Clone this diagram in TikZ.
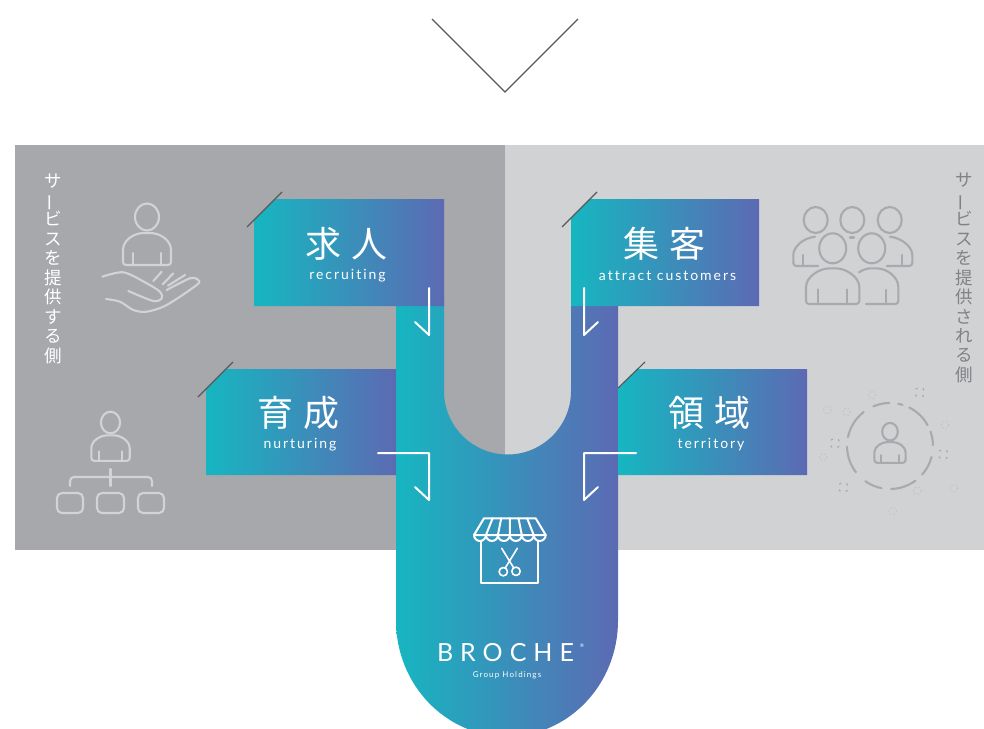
\documentclass[tikz,border=0pt]{standalone}
\usepackage{fontspec}
\setmainfont{Lato}
\newfontfamily\jpfont{Noto Sans CJK JP}
\newfontfamily\jphead[LetterSpace=26]{Noto Sans CJK JP}
\newfontfamily\latinsub[LetterSpace=14,Ligatures=NoCommon]{Lato}
\newfontfamily\latinlogo[LetterSpace=28]{Lato}
\definecolor{teal0}{HTML}{16B6C1}
\definecolor{violet0}{HTML}{5C6AB3}
\definecolor{paneldark}{HTML}{A7A8AB}
\definecolor{panellight}{HTML}{D1D2D4}
\definecolor{iconlight}{HTML}{D2D3D5}
\definecolor{icondark}{HTML}{A9AAAD}
\definecolor{sidegray}{HTML}{808285}
\definecolor{cutline}{HTML}{58595B}
\newcommand{\vbar}{\rotatebox[origin=c]{90}{ー}}
\tikzset{
	cardfill/.style={left color=teal0, right color=violet0, draw=none},
	cutmark/.style={cutline, line width=1.1pt},
	flowline/.style={white, line width=2pt, line cap=round, line join=round},
	headtext/.style={white, font=\jphead\fontsize{36}{38}\selectfont, inner sep=0pt},
	subtext/.style={white, font=\latinsub\fontsize{14}{16}\selectfont, inner sep=0pt},
	sidetext/.style={font=\jpfont\fontsize{17.5}{19.45}\selectfont, align=center, inner sep=0pt},
	iconline/.style={line width=2.1pt, line cap=round, line join=round},
	storeline/.style={white, line width=2pt, line join=round, line cap=round},
	personicon/.pic={
		\draw (0,0) ellipse[x radius=12, y radius=13.5];
		\draw[rounded corners=3] (-24,36) .. controls (-24,23) and (-13,16) .. (0,16) .. controls (13,16) and (24,23) .. (24,36) -- (24,48) -- (-24,48) -- cycle;
		\draw (-14,36) -- (-14,48) (14,36) -- (14,48);
	},
}
\begin{document}
\begin{tikzpicture}[x=1pt, y=-1pt]
	\useasboundingbox (0,0) rectangle (984,728);
	
	% Chevron
	\draw[cutmark] (432,19) -- (505,92) -- (578,19);
	
	% Panels
	\fill[paneldark] (15,145) rectangle (505,550);
	\fill[panellight] (505,145) rectangle (984,550);
	
	% Central shape
	\shade[cardfill] (396,300) -- (444,300) -- (444,391) arc[start angle=180, end angle=0, radius=63.5] -- (571,300) -- (618,300) -- (618,620.5) arc[start angle=0, end angle=180, x radius=111, y radius=116] -- cycle;
	
	% Cards
	\shade[cardfill] (254,220) -- (275,199) -- (444,199) -- (444,306) -- (254,306) -- cycle;
	\shade[cardfill] (206,389) -- (226,369) -- (396,369) -- (396,475) -- (206,475) -- cycle;
	\shade[cardfill] (571,218) -- (590,199) -- (759,199) -- (759,306) -- (571,306) -- cycle;
	\shade[cardfill] (618,388) -- (637,369) -- (807,369) -- (807,475) -- (618,475) -- cycle;
	
	\draw[cutmark] (247,227) -- (282,192);
	\draw[cutmark] (198,397) -- (233,362);
	\draw[cutmark] (562,227) -- (597,192);
	\draw[cutmark] (618,388) -- (645,362);
	
	% Card labels
	\node[headtext] (recruit) at (346.5,244) {求人};
	\node[subtext] (recruitsub) at (347.5,276) {recruiting};
	\node[headtext] (nurture) at (298.5,413) {育成};
	\node[subtext] (nurturesub) at (300,445) {nurturing};
	\node[headtext] (attract) at (664.5,244) {集客};
	\node[subtext] (attractsub) at (667.5,276) {attract customers};
	\node[headtext] (territory) at (709.5,413) {領域};
	\node[subtext] (territorysub) at (711,445) {territory};
	
	% Arrows
	\draw[flowline] (429,288) -- (429,335) -- (415,322);
	\draw[flowline] (378,453) -- (429,453) -- (429,500) -- (415,487);
	\draw[flowline] (584,288) -- (584,335) -- (598,322);
	\draw[flowline] (636,453) -- (584,453) -- (584,500) -- (598,487);
	
	% Side texts
	\node[sidetext, white] (providers) at (53,268.5) {サ\\\vbar\\ビ\\ス\\を\\提\\供\\す\\る\\側};
	\node[sidetext, sidegray] (receivers) at (964,278) {サ\\\vbar\\ビ\\ス\\を\\提\\供\\さ\\れ\\る\\側};
	
	% Hand icon
	\begin{scope}[iconline, iconlight]
		\pic at (147,217) {personicon};
		\draw plot[smooth] coordinates {(102.3,276.7) (123.3,272.3) (145,282.3) (160,291.7) (161.7,298.3) (153.3,301) (128.3,291)};
		\draw plot[smooth] coordinates {(106,299) (120,301.7) (133.3,310) (146.7,311.7) (166.7,305) (196.7,285) (198.3,280) (190,278.3) (166.7,290)};
		\draw (153.3,281) -- (161.7,271.7);
		\draw (162.7,284.3) -- (173.3,273.3);
		\draw (168,285.7) -- (185,275);
	\end{scope}
	
	% Tree icon
	\begin{scope}[iconline, iconlight]
		\pic[scale=0.8] at (110.5,422.5) {personicon};
		\draw (110.5,469) -- (110.5,486);
		\draw[rounded corners=4] (70,486) -- (70,477) -- (152,477) -- (152,486);
		\draw[rounded corners=5] (57,493) rectangle (83,513);
		\draw[rounded corners=5] (97,493) rectangle (124,513);
		\draw[rounded corners=5] (138,493) rectangle (164,513);
	\end{scope}
	
	% Group icon
	\begin{scope}[iconline, icondark]
		\foreach \xa in {815.7,852.3,889.7}
			\draw (\xa,220) ellipse[x radius=12, y radius=13];
		\foreach \xa in {832.7,871.7}
			\draw (\xa,248.3) ellipse[x radius=13.5, y radius=15];
		\draw (850,237.5) -- (854,237.5);
		\draw[rounded corners=3] (815,236.7) .. controls (803,238) and (793.3,247) .. (793.3,258) -- (793.3,266) -- (818,266);
		\draw (803.3,255) -- (803.3,266);
		\draw[rounded corners=3] (890,236.7) .. controls (902,238) and (912.3,247) .. (912.3,258) -- (912.3,266) -- (886.7,266);
		\draw (901.7,255) -- (901.7,266);
		\draw[rounded corners=3] (806,290) .. controls (806,277) and (819,268.3) .. (832.7,268.3) .. controls (846,268.3) and (859.3,277) .. (859.3,290) -- (859.3,304) -- (806,304) -- cycle;
		\draw (818.3,289.3) -- (818.3,304) (846.7,289.3) -- (846.7,304);
		\draw[rounded corners=3] (859,272.3) .. controls (863,269.5) and (868,268.3) .. (873.3,268.3) .. controls (887,268.3) and (898.3,277) .. (898.3,290) -- (898.3,304) -- (866,304);
		\draw (886,290) -- (886,304);
	\end{scope}
	
	% Territory icon
	\begin{scope}[iconline, icondark]
		\pic[scale=0.65] at (890,431.7) {personicon};
		\foreach \aa/\ab in {112.6/91,79/73,63.4/29,19.7/1.3,-14.7/-41.8,-53.7/-88.6,-101.4/-125,-142.4/-179,168/127.7}
			\draw (890,446) ++(-1*\aa:43) arc[start angle=-1*\aa, end angle=-1*\ab, radius=43];
	\end{scope}
	\foreach \xa/\ya in {872.3/395,827.3/410,846.7/411.7,945/425,823.3/457.3,917.3/490.7,954/488.3,892.7/511.3}
		\draw[icondark!75, line width=0.7pt, dash pattern=on 1.6pt off 2.1pt] (\xa,\ya) circle[radius=3.8];
	\foreach \xa/\ya in {919.7/392.3,835/443.3,943.3/454.3,843.3/487.3}
		\draw[icondark, line width=1.2pt, dash pattern=on 2.2pt off 5.6pt, dash phase=-2.9pt] (\xa,\ya) circle[radius=5];
	
	% Store icon
	\begin{scope}[storeline]
		\draw (484,518.3) -- (535.7,518.3) -- (545.7,535) -- (474,535) -- cycle;
		\foreach \n in {0,...,5}
			\draw (474+\n*11.95,535) arc[start angle=180, end angle=0, radius=5.975];
		\foreach \n in {1,...,5}
			\draw (484+\n*8.62,518.3) -- (474+\n*11.95,535);
		\draw (481,541) -- (481,582.7) -- (538.3,582.7) -- (538.3,541);
		\draw[line width=1.6pt] (501.7,548.3) -- (513.5,567.5) (517.3,548.3) -- (505.5,567.5);
		\draw[line width=1.6pt] (503.3,571.7) circle[radius=4.2] (516,571.3) circle[radius=4.2];
	\end{scope}
	
	% Logo
	\node[white, font=\latinlogo\fontsize{25}{27}\selectfont, inner sep=0pt] (brand) at (505.5,653) {BROCHE};
	\node[white, font=\fontsize{5}{6}\selectfont, inner sep=0pt] (regmark) at (582,646) {®};
	\node[white, font=\latinsub\fontsize{8}{9}\selectfont, inner sep=0pt] (group) at (507,675) {Group Holdings};
\end{tikzpicture}
\end{document}
